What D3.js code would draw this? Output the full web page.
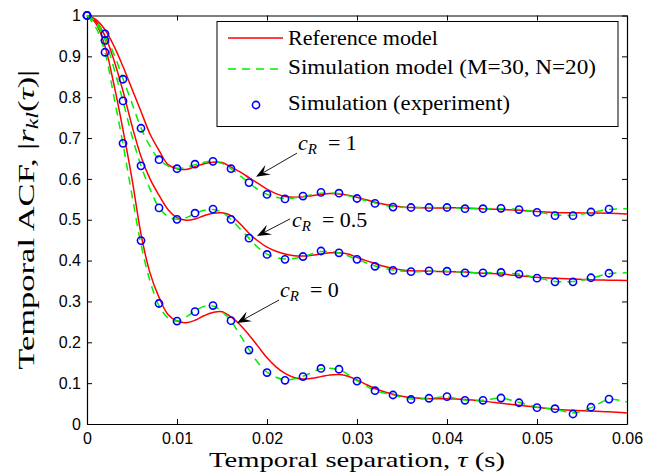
<!DOCTYPE html>
<meta charset="utf-8">
<head>
    <title>Temporal ACF</title>
    <script src="https://cdn.jsdelivr.net/npm/d3@7"></script>
</head>

<style>
    body { margin: 0; background: #fff; }
    svg { display: block; }
    .tick text { font-family: "Liberation Sans", Arial, sans-serif; font-size: 16px; fill: #000; }
    .domain, .tick line { stroke: #000; stroke-width: 1px; }
    .serif { font-family: "Liberation Serif", "Times New Roman", serif; fill: #000; }
</style>

<svg></svg>

<script>
    var vWidth = 655;
    var vHeight = 473;
    var vMargin = {top: 15.5, right: 28, bottom: 49, left: 87};

    // tick labels
    var xTicks = [0, 0.01, 0.02, 0.03, 0.04, 0.05, 0.06];
    var xTickLabels = ['0', '0.01', '0.02', '0.03', '0.04', '0.05', '0.06'];
    var yTicks = [0, 0.1, 0.2, 0.3, 0.4, 0.5, 0.6, 0.7, 0.8, 0.9, 1];
    var yTickLabels = ['0', '0.1', '0.2', '0.3', '0.4', '0.5', '0.6', '0.7', '0.8', '0.9', '1'];

    // reference model (red)
    var tauRef = [0, .001, .002, .003, .004, .005, .006, .007, .008, .009,
        .010, .011, .012, .013, .014, .015, .016, .017, .018, .019,
        .020, .021, .022, .023, .024, .025, .026, .027, .028, .029,
        .030, .031, .032, .033, .034, .035, .036,
        .038, .040, .042, .044, .046, .048, .050, .052, .054, .056, .058, .060];
    var ref1 = [1, .99, .965, .925, .875, .82, .765, .71, .67, .635,
        .625, .623, .63, .637, .641, .64, .629, .617, .603, .589,
        .575, .564, .557, .555, .556, .559, .562, .564, .563, .56,
        .555, .549, .543, .538, .534, .531, .530,
        .529, .529, .529, .527, .525, .523, .520, .518, .517, .5165, .516, .514];
    var ref05 = [1, .985, .95, .89, .815, .73, .655, .6, .56, .525,
        .505, .499, .502, .51, .516, .517, .51, .49, .467, .448,
        .433, .423, .416, .412, .411, .413, .416, .419, .419, .416,
        .408, .4, .393, .386, .381, .377, .375,
        .374, .373, .372, .369, .367, .363, .359, .357, .355, .353, .352, .351];
    var ref0 = [1, .98, .925, .83, .72, .6, .465, .37, .31, .268,
        .252, .248, .254, .265, .273, .275, .262, .243, .218, .19,
        .162, .14, .124, .114, .11, .112, .116, .12, .121, .117,
        .108, .097, .087, .079, .073, .068, .065,
        .062, .062, .060, .056, .051, .046, .041, .036, .0335, .032, .030, .027];

    // simulation model M=30, N=20 (green dashed)
    var tauSim = [0, .001, .002, .003, .004, .005, .006, .007, .008, .009,
        .010, .011, .012, .013, .014, .015, .016, .017, .018, .019, .020,
        .022, .024, .026, .028, .030, .032, .034, .036, .038, .040,
        .042, .044, .046, .048, .050, .052, .054, .056, .058, .060];
    var sim1 = [1, .985, .952, .905, .845, .785, .725, .68, .648, .632,
        .626, .628, .635, .641, .643, .638, .625, .608, .59, .574, .562,
        .552, .557, .565, .564, .553, .541, .532, .530, .530, .530,
        .528, .527, .527, .525, .519, .512, .511, .518, .525, .527];
    var sim05 = [1, .98, .94, .87, .79, .705, .632, .575, .53, .508,
        .501, .505, .515, .523, .525, .518, .501, .478, .455, .432, .416,
        .404, .41, .422, .419, .403, .387, .377, .373, .374, .374,
        .371, .37, .37, .367, .358, .349, .349, .357, .368, .37];
    var sim0 = [1, .97, .91, .8, .685, .56, .44, .35, .29, .26,
        .252, .262, .277, .288, .289, .275, .252, .218, .182, .15, .127,
        .108, .117, .135, .133, .106, .082, .071, .061, .063, .066,
        .059, .058, .063, .053, .041, .037, .027, .04, .06, .054];

    // simulation experiment (blue circles)
    var tauExp = [0, .002, .004, .006, .008, .010, .012, .014, .016, .018,
        .020, .022, .024, .026, .028, .030, .032, .034, .036, .038,
        .040, .042, .044, .046, .048, .050, .052, .054, .056, .058];
    var exp1 = [1, .955, .844, .724, .647, .625, .636, .643, .625, .591,
        .562, .551, .558, .567, .565, .552, .540, .531, .530, .530,
        .530, .527, .527, .528, .525, .518, .510, .510, .519, .526];
    var exp05 = [1, .939, .791, .632, .529, .501, .516, .526, .501, .455,
        .415, .403, .41, .4235, .419, .403, .386, .376, .373, .375,
        .374, .370, .370, .371, .367, .357, .348, .348, .358, .369];
    var exp0 = [1, .91, .687, .449, .295, .252, .275, .290, .253, .181,
        .126, .107, .116, .136, .134, .105, .0815, .071, .060, .063,
        .067, .058, .058, .0636, .052, .040, .0375, .0245, .041, .061];

    // c_R annotations: text anchor, arrow tail, arrow tip (data units)
    var annLabels = ['1', '0.5', '0'];
    var annText = [[.02344, .671], [.02278, .482], [.02144, .311]];
    var annTail = [[.02333, .663], [.02256, .502], [.02133, .3035]];
    var annTip = [[.01878, .605], [.01889, .460], [.01667, .247]];

    var svg = d3.select('svg').attr('width', vWidth).attr('height', vHeight);

    var x = d3.scaleLinear().domain([0, 0.06]).range([vMargin.left, vWidth - vMargin.right]);
    var y = d3.scaleLinear().domain([0, 1]).range([vHeight - vMargin.bottom, vMargin.top]);

    // axes, ticks pointing inwards on all four sides
    svg.append('g').attr('transform', 'translate(0,' + y(0) + ')')
        .call(d3.axisBottom(x).tickValues(xTicks).tickFormat(function (d, i) { return xTickLabels[i]; })
            .tickSizeInner(-5).tickSizeOuter(0).tickPadding(9));
    svg.append('g').attr('transform', 'translate(0,' + y(1) + ')')
        .call(d3.axisTop(x).tickValues(xTicks).tickFormat('').tickSizeInner(-5).tickSizeOuter(0));
    svg.append('g').attr('transform', 'translate(' + x(0) + ',0)')
        .call(d3.axisLeft(y).tickValues(yTicks).tickFormat(function (d, i) { return yTickLabels[i]; })
            .tickSizeInner(-5).tickSizeOuter(0).tickPadding(6));
    svg.append('g').attr('transform', 'translate(' + x(0.06) + ',0)')
        .call(d3.axisRight(y).tickValues(yTicks).tickFormat('').tickSizeInner(-5).tickSizeOuter(0));
    svg.selectAll('.domain').style('stroke-width', '1.2px');

    function pairs(t, v) { return t.map(function (d, i) { return [d, v[i]]; }); }
    var line = d3.line()
        .x(function (d) { return x(d[0]); })
        .y(function (d) { return y(d[1]); })
        .curve(d3.curveCatmullRom.alpha(0.5));

    var g = svg.append('g');
    [ref1, ref05, ref0].forEach(function (v) {
        g.append('path').attr('d', line(pairs(tauRef, v)))
            .attr('fill', 'none').attr('stroke', '#ff0000').attr('stroke-width', 1.5);
    });
    [sim1, sim05, sim0].forEach(function (v) {
        g.append('path').attr('d', line(pairs(tauSim, v)))
            .attr('fill', 'none').attr('stroke', '#00ee00').attr('stroke-width', 1.5)
            .attr('stroke-dasharray', '8,6');
    });
    [exp1, exp05, exp0].forEach(function (v) {
        g.selectAll(null).data(pairs(tauExp, v)).enter().append('circle')
            .attr('cx', function (d) { return x(d[0]); })
            .attr('cy', function (d) { return y(d[1]); })
            .attr('r', 3.6)
            .attr('fill', 'none').attr('stroke', '#0000ff').attr('stroke-width', 1.6);
    });

    // annotations
    annLabels.forEach(function (lab, i) {
        var p0 = [x(annTail[i][0]), y(annTail[i][1])];
        var p1 = [x(annTip[i][0]), y(annTip[i][1])];
        var dx = p1[0] - p0[0], dy = p1[1] - p0[1];
        var len = Math.sqrt(dx * dx + dy * dy);
        var ux = dx / len, uy = dy / len, nx = -uy, ny = ux;
        var L = 14, W = 5.5;
        g.append('line').attr('x1', p0[0]).attr('y1', p0[1])
            .attr('x2', p1[0] - ux * L * 0.6).attr('y2', p1[1] - uy * L * 0.6)
            .attr('stroke', '#000').attr('stroke-width', 0.9);
        g.append('path')
            .attr('d', 'M' + p1[0] + ',' + p1[1] +
                'L' + (p1[0] - ux * L + nx * W) + ',' + (p1[1] - uy * L + ny * W) +
                'L' + (p1[0] - ux * L * 0.6) + ',' + (p1[1] - uy * L * 0.6) +
                'L' + (p1[0] - ux * L - nx * W) + ',' + (p1[1] - uy * L - ny * W) + 'Z')
            .attr('fill', '#000');
        var t = g.append('text').attr('class', 'serif')
            .attr('x', x(annText[i][0])).attr('y', y(annText[i][1]))
            .style('font-size', '22px');
        t.append('tspan').style('font-style', 'italic').text('c');
        t.append('tspan').style('font-style', 'italic').style('font-size', '15px').attr('dy', 4).text('R');
        t.append('tspan').attr('dy', -4).text('\u2002= ' + lab);
    });

    // legend
    var lg = svg.append('g');
    lg.append('rect').attr('x', 217).attr('y', 21.5).attr('width', 401).attr('height', 105)
        .attr('fill', '#fff').attr('stroke', '#000').attr('stroke-width', 1);
    lg.append('line').attr('x1', 228).attr('x2', 283).attr('y1', 38).attr('y2', 38)
        .attr('stroke', '#ff0000').attr('stroke-width', 1.5);
    lg.append('line').attr('x1', 228).attr('x2', 283).attr('y1', 69).attr('y2', 69)
        .attr('stroke', '#00ee00').attr('stroke-width', 1.5).attr('stroke-dasharray', '8,6');
    lg.append('circle').attr('cx', 256).attr('cy', 105).attr('r', 3.6)
        .attr('fill', 'none').attr('stroke', '#0000ff').attr('stroke-width', 1.6);
    var legendText = ['Reference model', 'Simulation model (M=30, N=20)', 'Simulation (experiment)'];
    var legendWidth = [150, 308, 222];
    var legendY = [45, 74, 110];
    legendText.forEach(function (s, i) {
        lg.append('text').attr('class', 'serif').attr('x', 288).attr('y', legendY[i])
            .attr('textLength', legendWidth[i]).attr('lengthAdjust', 'spacingAndGlyphs')
            .style('font-size', '21px').text(s);
    });

    // axis titles
    var xl = svg.append('text').attr('class', 'serif')
        .attr('x', (x(0) + x(0.06)) / 2).attr('y', 467)
        .attr('text-anchor', 'middle').style('font-size', '22px')
        .attr('textLength', 296).attr('lengthAdjust', 'spacingAndGlyphs');
    xl.append('tspan').text('Temporal separation, ');
    xl.append('tspan').style('font-style', 'italic').text('\u03c4');
    xl.append('tspan').text(' (s)');

    var yl = svg.append('text').attr('class', 'serif')
        .attr('transform', 'translate(34,' + (y(0) + y(1)) / 2 + ') rotate(-90)')
        .attr('text-anchor', 'middle').style('font-size', '23px')
        .attr('textLength', 300).attr('lengthAdjust', 'spacingAndGlyphs');
    yl.append('tspan').text('Temporal ACF, |');
    yl.append('tspan').style('font-style', 'italic').text('r');
    yl.append('tspan').style('font-style', 'italic').style('font-size', '16px').attr('dy', 4).text('kl');
    yl.append('tspan').attr('dy', -4).text('(');
    yl.append('tspan').style('font-style', 'italic').text('\u03c4');
    yl.append('tspan').text(')|');
</script>
